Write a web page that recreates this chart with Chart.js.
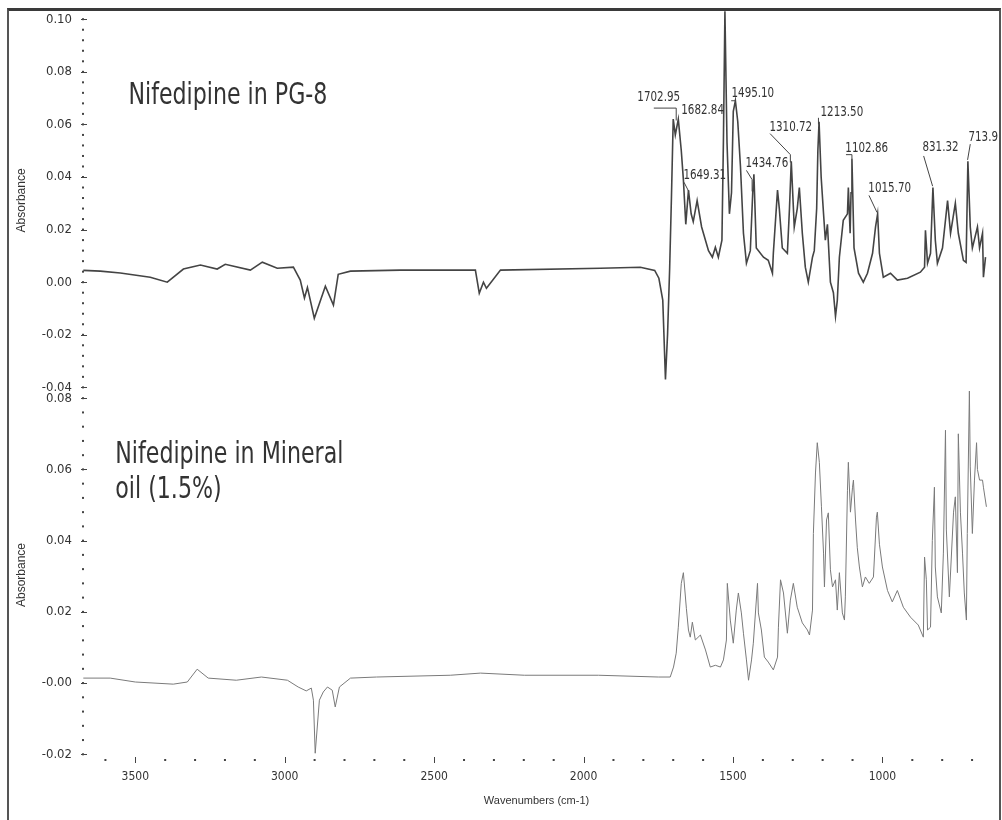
<!DOCTYPE html>
<html>
<head>
<meta charset="utf-8">
<script src="https://cdn.jsdelivr.net/npm/chart.js@4.4.1/dist/chart.umd.min.js"></script>
<style>
  body { margin: 0; background: #fff; }
  #wrap { position: relative; width: 1002px; height: 820px; overflow: hidden; }
  #frame { position: absolute; left: 7px; top: 8px; width: 990px; height: 830px;
           border-top: 3px solid #3a3a3a; border-left: 2px solid #555; border-right: 2px solid #555; }
  canvas { position: absolute; left: 0; }
  #topChart { top: -8px; }
  #bottomChart { top: 370px; }
</style>
</head>
<body>
<div id="wrap">
  <div id="frame"></div>
  <canvas id="topChart" width="1002" height="418"></canvas>
  <canvas id="bottomChart" width="1002" height="450"></canvas>
</div>
<script>
// IR spectra, absorbance vs wavenumber (cm-1)

const topWavenumbers = [3674,3617,3550,3450,3393,3339,3282,3226,3199,3115,3075,3025,2971,2948,2934,2924,2901,2864,2837,2821,
  2780,2613,2362,2349,2335,2325,2278,1944,1810,1762,1748,1735,1726,1719,1712,1706,1700,1693,1683,1673,
  1666,1658,1649,1640,1633,1620,1605,1582,1569,1559,1549,1537,1532,1527,1520,1512,1505,1499,1492,1484,
  1475,1465,1455,1442,1434,1430,1422,1398,1382,1368,1365,1351,1345,1335,1318,1311,1305,1295,1285,1278,
  1268,1258,1248,1234,1228,1220,1216,1212,1205,1197,1191,1184,1174,1164,1157,1151,1144,1131,1117,1114,
  1108,1105,1102,1095,1080,1064,1050,1033,1023,1016,1010,997,973,950,916,873,859,856,849,839,
  831,823,816,799,782,772,756,746,729,720,714,706,699,682,675,665,662,655];
const topAbsorbance = [0.0045,0.0042,0.0035,0.0019,0.0000,0.0050,0.0065,0.0050,0.0068,0.0046,0.0076,0.0053,0.0057,0.0008,-0.0060,-0.0020,-0.0137,-0.0015,-0.0087,0.0030,
  0.0042,0.0046,0.0046,-0.0042,0.0000,-0.0023,0.0046,0.0053,0.0057,0.0045,0.0015,-0.0068,-0.0370,-0.0200,0.0050,0.0320,0.0620,0.0560,0.0620,0.0500,
  0.0390,0.0220,0.0350,0.0260,0.0230,0.0310,0.0210,0.0120,0.0095,0.0133,0.0095,0.0160,0.0540,0.1030,0.0530,0.0260,0.0340,0.0650,0.0690,0.0610,
  0.0440,0.0186,0.0072,0.0120,0.0340,0.0410,0.0130,0.0095,0.0083,0.0034,0.0110,0.0350,0.0280,0.0130,0.0110,0.0280,0.0460,0.0210,0.0280,0.0360,
  0.0186,0.0057,0.0000,0.0095,0.0120,0.0280,0.0500,0.0610,0.0400,0.0260,0.0160,0.0220,0.0000,-0.0040,-0.0130,-0.0070,0.0095,0.0235,0.0260,0.0360,
  0.0186,0.0340,0.0470,0.0130,0.0034,0.0000,0.0034,0.0110,0.0210,0.0260,0.0110,0.0019,0.0034,0.0008,0.0015,0.0038,0.0057,0.0197,0.0072,0.0110,
  0.0360,0.0160,0.0072,0.0130,0.0310,0.0186,0.0300,0.0186,0.0083,0.0075,0.0460,0.0210,0.0130,0.0210,0.0130,0.0186,0.0019,0.0095];

const bottomWavenumbers = [3674,3584,3500,3373,3326,3293,3256,3162,3078,2991,2955,2928,2911,2904,2898,2884,2871,2857,2841,2831,
  2817,2780,2693,2446,2345,2198,1950,1750,1710,1699,1690,1683,1673,1666,1656,1649,1643,1636,1626,1609,
  1592,1576,1559,1542,1532,1522,1519,1509,1499,1489,1482,1472,1465,1455,1448,1438,1432,1418,1415,1405,
  1395,1382,1365,1351,1348,1341,1331,1318,1308,1298,1285,1268,1251,1244,1234,1231,1224,1218,1211,1204,
  1197,1194,1187,1181,1174,1167,1157,1151,1144,1134,1127,1124,1117,1114,1107,1100,1097,1090,1084,1077,
  1067,1057,1044,1030,1020,1017,1010,1000,983,967,950,930,906,880,863,859,853,849,839,833,
  826,823,816,803,796,789,786,776,762,756,749,746,739,732,726,719,716,709,706,699,
  692,685,682,675,665,662,652];
const bottomAbsorbance = [0.0014,0.0014,0.0003,-0.0003,0.0003,0.0039,0.0014,0.0008,0.0017,0.0008,-0.0011,-0.0022,-0.0014,-0.0048,-0.0197,-0.0048,-0.0025,-0.0011,-0.0020,-0.0067,
  -0.0011,0.0014,0.0017,0.0022,0.0028,0.0022,0.0022,0.0017,0.0017,0.0045,0.0084,0.0157,0.0280,0.0310,0.0210,0.0149,0.0129,0.0171,0.0121,0.0135,
  0.0093,0.0045,0.0050,0.0045,0.0065,0.0121,0.0280,0.0177,0.0112,0.0205,0.0253,0.0197,0.0140,0.0065,0.0008,0.0065,0.0112,0.0280,0.0197,0.0149,
  0.0073,0.0059,0.0037,0.0073,0.0157,0.0290,0.0253,0.0140,0.0233,0.0280,0.0213,0.0169,0.0149,0.0135,0.0205,0.0420,0.0590,0.0675,0.0620,0.0495,
  0.0365,0.0270,0.0458,0.0478,0.0318,0.0270,0.0290,0.0205,0.0310,0.0197,0.0177,0.0242,0.0540,0.0620,0.0480,0.0550,0.0570,0.0458,0.0380,0.0326,
  0.0270,0.0298,0.0280,0.0298,0.0466,0.0480,0.0390,0.0326,0.0260,0.0228,0.0260,0.0213,0.0185,0.0163,0.0129,0.0354,0.0290,0.0149,0.0157,0.0400,
  0.0550,0.0326,0.0242,0.0197,0.0365,0.0710,0.0430,0.0242,0.0480,0.0523,0.0310,0.0700,0.0480,0.0365,0.0253,0.0177,0.0420,0.0820,0.0607,0.0420,
  0.0570,0.0675,0.0600,0.0570,0.0570,0.0550,0.0495];

const topTicks = [-0.04, -0.02, 0, 0.02, 0.04, 0.06, 0.08, 0.10];
const bottomTicks = [-0.02, 0, 0.02, 0.04, 0.06, 0.08];
const xTicks = [3500, 3000, 2500, 2000, 1500, 1000];

// peak labels of the top spectrum: text anchor and leader line, in data units
const peakLabels = ['1702.95','1682.84','1495.10','1649.31','1434.76','1310.72','1213.50','1102.86','1015.70','831.32','713.9'];
const peakTextWn = [1820, 1673, 1505, 1666, 1458, 1378, 1207, 1124, 1047, 866, 712];
const peakTextAbs = [0.0702, 0.0653, 0.0717, 0.0406, 0.0452, 0.0588, 0.0645, 0.0509, 0.0357, 0.0512, 0.0550];
const peakLeaders = [
  [[1765,0.0662],[1690,0.0662],[1690,0.0615]],
  [],
  [[1506,0.0690],[1492,0.0690]],
  [[1664,0.0380],[1648,0.0345]],
  [[1455,0.0425],[1436,0.0390],[1436,0.0345]],
  [[1376,0.0565],[1308,0.0485],[1308,0.0455]],
  [[1214,0.0625],[1214,0.0600]],
  [[1122,0.0485],[1102,0.0485],[1102,0.0470]],
  [[1045,0.0330],[1018,0.0265]],
  [[862,0.0480],[832,0.0365]],
  [[706,0.0525],[715,0.0465]]
];

const panelTitles = {
  top: [{ text: 'Nifedipine in PG-8', wn: 3523, abs: 0.0706 }],
  bottom: [{ text: 'Nifedipine in Mineral', wn: 3567, abs: 0.0641 },
           { text: 'oil (1.5%)', wn: 3567, abs: 0.0542 }]
};

const NARROW = '"Liberation Sans Narrow", "DejaVu Sans Condensed", "Arial Narrow", sans-serif';
const INK = '#333';

const axisMarks = {
  id: 'axisMarks',
  afterDraw(chart) {
    const { ctx, chartArea: a, scales: { x, y } } = chart;
    ctx.save();
    ctx.fillStyle = '#444';
    ctx.strokeStyle = '#444';
    ctx.lineWidth = 1;
    const step = 0.004;
    for (let i = Math.ceil(y.min / step - 1e-9); i * step <= y.max + 1e-9; i++) {
      const py = y.getPixelForValue(i * step);
      ctx.fillRect(a.left - 1, py - 1, 2, 2);
    }
    y.ticks.forEach(t => {
      const py = Math.round(y.getPixelForValue(t.value)) + 0.5;
      ctx.beginPath(); ctx.moveTo(a.left - 2, py); ctx.lineTo(a.left + 4, py); ctx.stroke();
    });
    if (chart.canvas.id === 'bottomChart') {
      for (let w = 700; w <= 3600; w += 100) {
        const px = x.getPixelForValue(w);
        if (w % 500 === 0) {
          ctx.beginPath(); ctx.moveTo(Math.round(px) + 0.5, a.bottom - 3); ctx.lineTo(Math.round(px) + 0.5, a.bottom + 3); ctx.stroke();
        } else {
          ctx.fillRect(px - 1, a.bottom - 1, 2, 2);
        }
      }
    }
    ctx.restore();
  }
};

// text drawn a bit condensed, like the original print
function narrowText(ctx, text, px, py, squeeze) {
  ctx.save();
  ctx.translate(px, py);
  ctx.scale(squeeze, 1);
  ctx.fillText(text, 0, 0);
  ctx.restore();
}

const annotate = {
  id: 'annotate',
  afterDatasetsDraw(chart) {
    const { ctx, scales: { x, y } } = chart;
    const panel = chart.canvas.id === 'topChart' ? 'top' : 'bottom';
    ctx.save();
    ctx.fillStyle = INK;
    ctx.textBaseline = 'middle';
    ctx.font = '30px ' + NARROW;
    panelTitles[panel].forEach(t => narrowText(ctx, t.text, x.getPixelForValue(t.wn), y.getPixelForValue(t.abs), 0.82));
    if (panel === 'top') {
      ctx.font = '14px ' + NARROW;
      ctx.strokeStyle = '#444';
      ctx.lineWidth = 1;
      peakLabels.forEach((label, i) => {
        narrowText(ctx, label, x.getPixelForValue(peakTextWn[i]), y.getPixelForValue(peakTextAbs[i]), 0.82);
        const pts = peakLeaders[i];
        if (!pts.length) return;
        ctx.beginPath();
        pts.forEach(([w, v], k) => {
          const px = x.getPixelForValue(w), py = y.getPixelForValue(v);
          if (k === 0) ctx.moveTo(px, py); else ctx.lineTo(px, py);
        });
        ctx.stroke();
      });
    }
    ctx.restore();
  }
};

function makeChart(id, wns, abs, opts) {
  const ctx = document.getElementById(id).getContext('2d');
  return new Chart(ctx, {
    type: 'line',
    data: {
      datasets: [{
        data: wns.map((w, i) => ({ x: w, y: abs[i] })),
        borderColor: opts.color,
        borderWidth: opts.width,
        pointRadius: 0,
        tension: 0,
        fill: false
      }]
    },
    options: {
      responsive: false,
      animation: false,
      layout: { padding: opts.padding },
      plugins: { legend: { display: false }, tooltip: { enabled: false } },
      scales: {
        x: {
          type: 'linear',
          reverse: true,
          min: 640,
          max: 3675,
          display: opts.showX,
          afterBuildTicks: s => { s.ticks = xTicks.map(v => ({ value: v })); },
          afterFit: s => { s.height = opts.showX ? 60 : 0; },
          grid: { display: false, drawTicks: false },
          border: { display: false },
          ticks: { color: INK, font: { family: NARROW, size: 12 }, padding: 10, maxRotation: 0, autoSkip: false,
                   callback: v => String(v) },
          title: { display: true, text: 'Wavenumbers (cm-1)', color: INK,
                   font: { family: '"Liberation Sans", Arial, sans-serif', size: 11 }, padding: { top: 0, bottom: 12 } }
        },
        y: {
          min: opts.yMin,
          max: opts.yMax,
          afterBuildTicks: s => { s.ticks = opts.ticks.map(v => ({ value: v })); },
          afterFit: s => { s.width = 83; },
          grid: { display: false, drawTicks: false },
          border: { display: false },
          ticks: { color: INK, font: { family: NARROW, size: 13 }, padding: 11, callback: opts.fmt },
          title: { display: true, text: 'Absorbance', color: INK,
                   font: { family: '"Liberation Sans", Arial, sans-serif', size: 12 }, padding: { top: 14, bottom: 0 } }
        }
      }
    },
    plugins: [axisMarks, annotate]
  });
}

makeChart('topChart', topWavenumbers, topAbsorbance, {
  color: '#444', width: 1.6, showX: false,
  padding: { top: 2, right: 12, bottom: 20, left: 0 },
  yMin: -0.041, yMax: 0.1032, ticks: topTicks,
  fmt: v => v.toFixed(2)
});

makeChart('bottomChart', bottomWavenumbers, bottomAbsorbance, {
  color: '#7a7a7a', width: 1, showX: true,
  padding: { top: 20, right: 12, bottom: 0, left: 0 },
  yMin: -0.0216, yMax: 0.0823, ticks: bottomTicks,
  fmt: v => (v === 0 ? '-0.00' : v.toFixed(2))
});
</script>
</body>
</html>
